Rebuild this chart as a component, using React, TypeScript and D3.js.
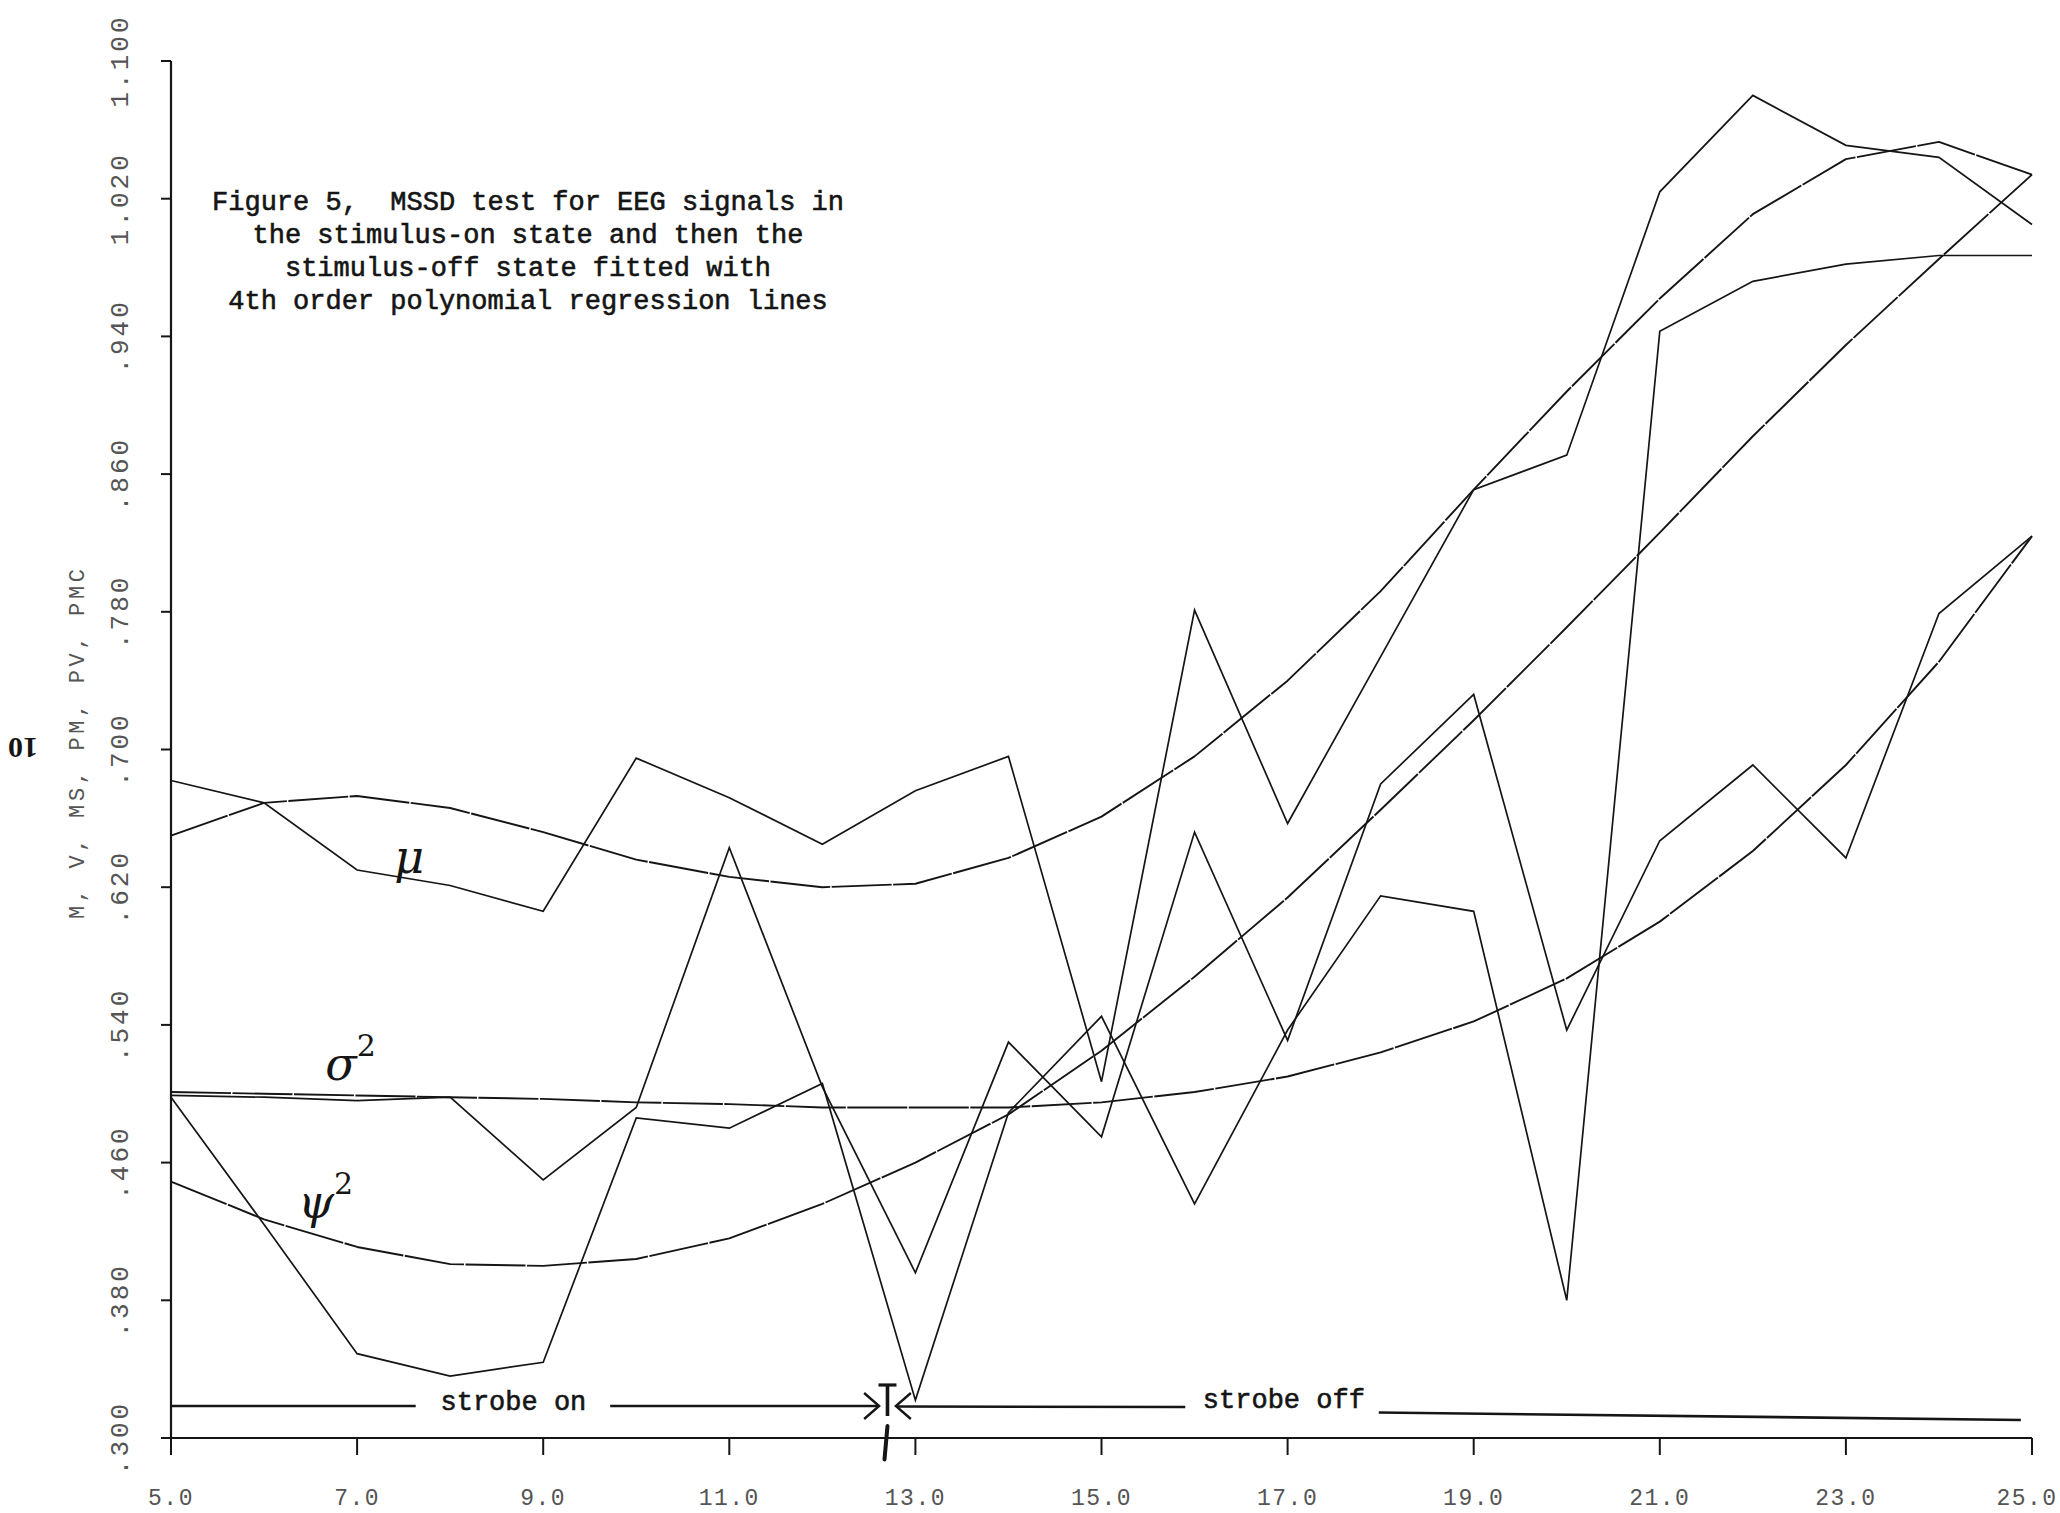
import React from "react";
import * as d3 from "d3";

// Time axis (seconds) shared by every series
const X_VALUES = [5, 6, 7, 8, 9, 10, 11, 12, 13, 14, 15, 16, 17, 18, 19, 20, 21, 22, 23, 24, 25];

// Observed MSSD statistics
const MU_RAW = [0.682, 0.669, 0.630, 0.621, 0.606, 0.695, 0.672, 0.645, 0.676, 0.696, 0.507, 0.781, 0.657, 0.754, 0.851, 0.871, 1.024, 1.080, 1.051, 1.044, 1.005];
const SIGMA_RAW = [0.499, 0.498, 0.496, 0.498, 0.450, 0.492, 0.643, 0.504, 0.396, 0.530, 0.475, 0.652, 0.531, 0.680, 0.732, 0.537, 0.647, 0.691, 0.637, 0.779, 0.824];
const PSI_RAW = [0.498, 0.424, 0.349, 0.336, 0.344, 0.486, 0.480, 0.506, 0.322, 0.489, 0.545, 0.436, 0.537, 0.615, 0.606, 0.380, 0.943, 0.972, 0.982, 0.987, 0.987];

// 4th order polynomial regression lines
const MU_FIT = [0.650, 0.669, 0.673, 0.666, 0.652, 0.636, 0.626, 0.620, 0.622, 0.637, 0.661, 0.696, 0.740, 0.792, 0.851, 0.908, 0.962, 1.011, 1.043, 1.053, 1.034];
const SIGMA_FIT = [0.501, 0.500, 0.499, 0.498, 0.497, 0.495, 0.494, 0.492, 0.492, 0.492, 0.495, 0.501, 0.510, 0.524, 0.542, 0.567, 0.600, 0.641, 0.691, 0.751, 0.824];
const PSI_FIT = [0.449, 0.427, 0.411, 0.401, 0.400, 0.404, 0.416, 0.436, 0.460, 0.488, 0.525, 0.568, 0.614, 0.665, 0.717, 0.771, 0.826, 0.882, 0.935, 0.985, 1.034];

// Axis ticks
const X_TICKS = [5, 7, 9, 11, 13, 15, 17, 19, 21, 23, 25];
const X_TICK_LABELS = ["5.0", "7.0", "9.0", "11.0", "13.0", "15.0", "17.0", "19.0", "21.0", "23.0", "25.0"];
const Y_TICKS = [0.3, 0.38, 0.46, 0.54, 0.62, 0.7, 0.78, 0.86, 0.94, 1.02, 1.1];
const Y_TICK_LABELS = [".300", ".380", ".460", ".540", ".620", ".700", ".780", ".860", ".940", "1.020", "1.100"];

const TITLE_LINES = [
  "Figure 5,  MSSD test for EEG signals in",
  "the stimulus-on state and then the",
  "stimulus-off state fitted with",
  "4th order polynomial regression lines",
];
const Y_TITLE = "M, V, MS, PM, PV, PMC";

// Hand-written series names, placed in data units
const SERIES_NAMES = [
  { sym: "\u03bc", sup: "", x: 7.56, v: 0.628 },
  { sym: "\u03c3", sup: "2", x: 6.93, v: 0.508 },
  { sym: "\u03c8", sup: "2", x: 6.66, v: 0.428 },
];

// Stimulus timeline drawn along the bottom of the plot
const STROBE_LEVEL = 0.3186;
const STROBE_ON_SEGMENTS = [[5.0, 7.63], [9.72, 12.6]];
const STROBE_OFF_SEGMENTS = [[12.8, 15.9, 0.3183, 0.3180], [17.98, 24.88, 0.3148, 0.3105]];
const STROBE_LABELS = [
  { text: "strobe on", x: 8.68, v: 0.3163 },
  { text: "strobe off", x: 16.96, v: 0.3172 },
];
const STROBE_SWITCH = { x: 12.7, top: 0.3308, bottom: 0.2875, left: 12.61, right: 12.79 };

const INK = "#151515";

export default function App() {
  const W = 2060;
  const H = 1513;
  const x = d3.scaleLinear().domain([5, 25]).range([171, 2032]);
  const y = d3.scaleLinear().domain([0.3, 1.1]).range([1438, 61]);
  const line = d3
    .line<number>()
    .x((_, i) => x(X_VALUES[i]))
    .y((d) => y(d));

  const raws = [MU_RAW, SIGMA_RAW, PSI_RAW];
  const fits = [MU_FIT, SIGMA_FIT, PSI_FIT];
  const mono = "'Liberation Mono', 'DejaVu Sans Mono', monospace";

  const sw = STROBE_SWITCH;
  const arrowH = 13;
  const arrowW = 15;

  // keep the last tick label inside the page
  const xLabelPos = (t: number) => Math.min(x(t), W - 33);

  return (
    <svg
      width={W}
      height={H}
      viewBox={`0 0 ${W} ${H}`}
      style={{ position: "absolute", left: 0, top: 0, background: "#fff" }}
    >
      <rect x={0} y={0} width={W} height={H} fill="#fff" />

      {/* axes */}
      <line x1={x(5)} x2={x(5)} y1={y(1.1)} y2={y(0.3)} stroke={INK} strokeWidth={2.2} />
      <line x1={x(5)} x2={x(25)} y1={y(0.3)} y2={y(0.3)} stroke={INK} strokeWidth={2.2} />
      {Y_TICKS.map((t, i) => (
        <g key={"yt" + i}>
          <line x1={x(5) - 10} x2={x(5)} y1={y(t)} y2={y(t)} stroke={INK} strokeWidth={2} />
          <text
            transform={`translate(${x(5) - 50},${y(t)}) rotate(-90)`}
            textAnchor="middle"
            dominantBaseline="central"
            fontFamily={mono}
            fontSize={26}
            letterSpacing={3}
            fill="#555"
          >
            {Y_TICK_LABELS[i]}
          </text>
        </g>
      ))}
      {X_TICKS.map((t, i) => (
        <g key={"xt" + i}>
          <line x1={x(t)} x2={x(t)} y1={y(0.3)} y2={y(0.3) + 17} stroke={INK} strokeWidth={2} />
          <text
            x={xLabelPos(t)}
            y={y(0.3) + 67}
            textAnchor="middle"
            fontFamily={mono}
            fontSize={23}
            letterSpacing={1.5}
            fill="#555"
          >
            {X_TICK_LABELS[i]}
          </text>
        </g>
      ))}

      {/* y-axis title */}
      <text
        transform={`translate(78,744) rotate(-90)`}
        textAnchor="middle"
        dominantBaseline="central"
        fontFamily={mono}
        fontSize={22}
        textLength={350}
        lengthAdjust="spacing"
        fill="#555"
      >
        {Y_TITLE}
      </text>
      <text
        transform={`translate(23,748) rotate(180)`}
        textAnchor="middle"
        dominantBaseline="central"
        fontFamily="'Liberation Serif', 'DejaVu Serif', serif"
        fontWeight="bold"
        fontSize={30}
        fill={INK}
      >
        10
      </text>

      {/* title */}
      {TITLE_LINES.map((s, i) => (
        <text
          key={"tl" + i}
          x={528}
          y={210 + i * 33}
          textAnchor="middle"
          fontFamily={mono}
          fontSize={27}
          fill={INK}
          stroke={INK}
          strokeWidth={0.6}
          xmlSpace="preserve"
          style={{ whiteSpace: "pre" }}
        >
          {s}
        </text>
      ))}

      {/* regression lines */}
      {fits.map((s, i) => (
        <path
          key={"fit" + i}
          d={line(s) || ""}
          fill="none"
          stroke={INK}
          strokeWidth={1.9}
          strokeDasharray="60 1.5"
          strokeLinejoin="round"
        />
      ))}
      {/* observed series */}
      {raws.map((s, i) => (
        <path
          key={"raw" + i}
          d={line(s) || ""}
          fill="none"
          stroke={INK}
          strokeWidth={1.7}
          strokeLinejoin="miter"
        />
      ))}

      {/* hand-written series names */}
      {SERIES_NAMES.map((n, i) => (
        <text
          key={"sn" + i}
          x={x(n.x)}
          y={y(n.v)}
          textAnchor="middle"
          fontFamily="'DejaVu Serif', serif"
          fontStyle="italic"
          fontSize={46}
          fill={INK}
        >
          {n.sym}
          {n.sup && (
            <tspan fontSize={30} dy={-24} fontStyle="normal">
              {n.sup}
            </tspan>
          )}
        </text>
      ))}

      {/* stimulus timeline */}
      {STROBE_ON_SEGMENTS.map((s, i) => (
        <line
          key={"son" + i}
          x1={x(s[0])}
          x2={x(s[1])}
          y1={y(STROBE_LEVEL)}
          y2={y(STROBE_LEVEL)}
          stroke={INK}
          strokeWidth={2.6}
        />
      ))}
      {STROBE_OFF_SEGMENTS.map((s, i) => (
        <line
          key={"soff" + i}
          x1={x(s[0])}
          x2={x(s[1])}
          y1={y(s[2])}
          y2={y(s[3])}
          stroke={INK}
          strokeWidth={2.6}
        />
      ))}
      {STROBE_LABELS.map((l, i) => (
        <text
          key={"sl" + i}
          x={x(l.x)}
          y={y(l.v)}
          textAnchor="middle"
          fontFamily={mono}
          fontSize={27}
          fill={INK}
          stroke={INK}
          strokeWidth={0.6}
        >
          {l.text}
        </text>
      ))}
      {/* switch-over marker */}
      <path
        d={`M${x(sw.left) - arrowW},${y(STROBE_LEVEL) - arrowH} L${x(sw.left)},${y(STROBE_LEVEL)} L${x(sw.left) - arrowW},${y(STROBE_LEVEL) + arrowH}`}
        fill="none"
        stroke={INK}
        strokeWidth={2.4}
      />
      <path
        d={`M${x(sw.right) + arrowW},${y(STROBE_LEVEL) - arrowH} L${x(sw.right)},${y(STROBE_LEVEL)} L${x(sw.right) + arrowW},${y(STROBE_LEVEL) + arrowH}`}
        fill="none"
        stroke={INK}
        strokeWidth={2.4}
      />
      <line x1={x(sw.x) - 9} x2={x(sw.x) + 9} y1={y(sw.top)} y2={y(sw.top)} stroke={INK} strokeWidth={3.2} />
      <line x1={x(sw.x)} x2={x(sw.x)} y1={y(sw.top)} y2={y(STROBE_LEVEL) + 10} stroke={INK} strokeWidth={3.6} />
      <line
        x1={x(sw.x)}
        x2={x(sw.x) - 3}
        y1={y(STROBE_LEVEL) + 20}
        y2={y(sw.bottom)}
        stroke={INK}
        strokeWidth={4}
        strokeLinecap="round"
      />
    </svg>
  );
}
